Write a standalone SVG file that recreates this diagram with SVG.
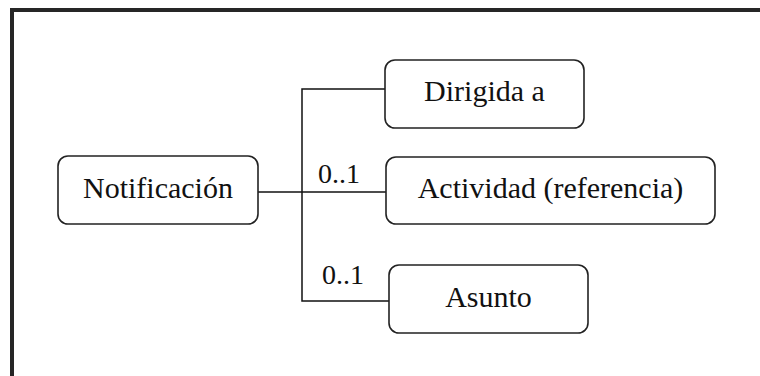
<svg xmlns="http://www.w3.org/2000/svg" width="760" height="376" viewBox="0 0 760 376">
  <style>
    .frame { fill: none; stroke: #262626; stroke-width: 4; }
    .box { fill: #ffffff; stroke: #222222; stroke-width: 1.6; }
    .lbl { font-size: 30px; fill: #111111; text-anchor: middle; }
    .mult { font-size: 28px; fill: #111111; }
    .wire { fill: none; stroke: #111111; stroke-width: 1.5; }
  </style>
  <rect width="760" height="376" fill="#ffffff"/>
  <!-- outer frame (extends past the canvas on the right and bottom) -->
  <path class="frame" d="M12,380 V10 H764"/>

  <g font-family="Liberation Serif, Tinos, Times New Roman, DejaVu Serif, serif">
  <g id="connectors">
    <path class="wire" d="M258,192 H386"/>
    <path class="wire" d="M385,89 H302 V301 H389"/>
    <text class="mult" x="318" y="183">0..1</text>
    <text class="mult" x="322" y="284">0..1</text>
  </g>

  <g id="notificacion">
    <rect class="box" x="58" y="156" width="200" height="68" rx="10"/>
    <text class="lbl" x="158" y="198">Notificación</text>
  </g>
  <g id="dirigida">
    <rect class="box" x="385" y="60" width="199" height="68" rx="10"/>
    <text class="lbl" x="484.5" y="101">Dirigida a</text>
  </g>
  <g id="actividad">
    <rect class="box" x="386" y="157" width="329" height="67" rx="10"/>
    <text class="lbl" x="550.5" y="198">Actividad (referencia)</text>
  </g>
  <g id="asunto">
    <rect class="box" x="389" y="265" width="199" height="68" rx="10"/>
    <text class="lbl" x="488.5" y="307">Asunto</text>
  </g>
  </g>
</svg>
